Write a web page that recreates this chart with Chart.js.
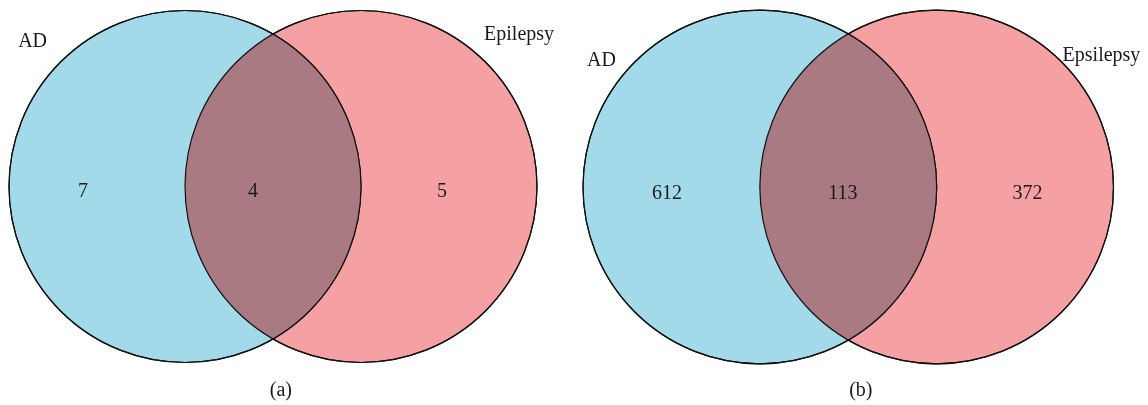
<!DOCTYPE html>
<html>
<head>
<meta charset="utf-8">
<script src="https://cdn.jsdelivr.net/npm/chart.js@4/dist/chart.umd.min.js"></script>
<style>
  html, body { margin: 0; padding: 0; background: #fff; }
  #wrap { display: flex; width: 1148px; height: 405px; }
  canvas { display: block; }
</style>
</head>
<body>
<div id="wrap">
  <canvas id="vennA" width="574" height="405"></canvas>
  <canvas id="vennB" width="574" height="405"></canvas>
</div>
<script>
// counts per panel
var panelTags = ['(a)', '(b)'];
var leftNames = ['AD', 'AD'];
var rightNames = ['Epilepsy', 'Epsilepsy'];
var onlyLeft = [7, 612];
var shared = [4, 113];
var onlyRight = [5, 372];

// layout (data units: radius 1, centres 1 apart)
var R = 1;
var centres = [{x: 0, y: 0}, {x: 1, y: 0}];
var pads = [
  {left: 9, right: 37, top: 10.5, bottom: 42.5},
  {left: 9, right: 34.5, top: 10, bottom: 41}
];
var textSpots = [
  {leftName: [-0.866, 0.794], rightName: [1.898, 0.832], counts: [[-0.580, -0.057], [0.386, -0.057], [1.460, -0.057]], tag: [0.545, -1.190]},
  {leftName: [-0.895, 0.684], rightName: [1.932, 0.714], counts: [[-0.525, -0.068], [0.469, -0.068], [1.514, -0.068]], tag: [0.571, -1.181]}
];

var blue = 'rgb(163,218,234)';
var pink = 'rgb(245,160,163)';
var lens = 'rgb(170,122,131)';

function unitPx(chart) {
  var s = chart.scales.x;
  return s.getPixelForValue(R) - s.getPixelForValue(0);
}

var vennPlugin = {
  id: 'venn',
  afterDatasetsDraw: function(chart) {
    var c = chart.ctx;
    var sx = chart.scales.x, sy = chart.scales.y;
    var r = unitPx(chart);
    var ax = sx.getPixelForValue(centres[0].x), ay = sy.getPixelForValue(centres[0].y);
    var bx = sx.getPixelForValue(centres[1].x), by = sy.getPixelForValue(centres[1].y);
    // overlap
    c.save();
    c.beginPath();
    c.arc(ax, ay, r, 0, Math.PI * 2);
    c.clip();
    c.beginPath();
    c.arc(bx, by, r, 0, Math.PI * 2);
    c.fillStyle = lens;
    c.fill();
    c.restore();
    // outlines
    c.save();
    c.strokeStyle = '#111';
    c.lineWidth = 1.2;
    c.beginPath();
    c.arc(ax, ay, r, 0, Math.PI * 2);
    c.stroke();
    c.beginPath();
    c.arc(bx, by, r, 0, Math.PI * 2);
    c.stroke();
    c.restore();

    // texts
    var i = chart.options.plugins.venn.panel;
    var spots = textSpots[i];
    c.save();
    c.fillStyle = '#1a1a1a';
    c.font = '20px "Liberation Serif", "DejaVu Serif", serif';
    c.textAlign = 'center';
    c.textBaseline = 'alphabetic';
    function put(txt, p) {
      c.fillText(txt, sx.getPixelForValue(p[0]), sy.getPixelForValue(p[1]));
    }
    put(leftNames[i], spots.leftName);
    put(rightNames[i], spots.rightName);
    put(String(onlyLeft[i]), spots.counts[0]);
    put(String(shared[i]), spots.counts[1]);
    put(String(onlyRight[i]), spots.counts[2]);
    put(panelTags[i], spots.tag);
    c.restore();
  }
};

function drawVenn(canvasId, i) {
  var chart = new Chart(document.getElementById(canvasId), {
    type: 'bubble',
    data: {
      datasets: [{
        label: leftNames[i],
        data: [centres[0]],
        backgroundColor: blue,
        borderColor: '#111',
        borderWidth: 1.2,
        clip: false
      }, {
        label: rightNames[i],
        data: [centres[1]],
        backgroundColor: pink,
        borderColor: '#111',
        borderWidth: 1.2,
        clip: false
      }]
    },
    options: {
      responsive: false,
      animation: false,
      events: [],
      // bubbles would otherwise shrink the area by their own radius
      layout: { padding: pads[i], autoPadding: false },
      scales: {
        x: { type: 'linear', min: -1, max: 2, display: false },
        y: { type: 'linear', min: -1, max: 1, display: false }
      },
      plugins: {
        legend: { display: false },
        tooltip: { enabled: false },
        venn: { panel: i }
      }
    },
    plugins: [vennPlugin]
  });

  // bubble r is in pixels: measure one data unit on the laid-out scale
  var px = unitPx(chart);
  chart.data.datasets.forEach(function(d, k) {
    d.data = [{x: centres[k].x, y: centres[k].y, r: px}];
  });
  chart.update('none');
  return chart;
}

drawVenn('vennA', 0);
drawVenn('vennB', 1);
</script>
</body>
</html>
